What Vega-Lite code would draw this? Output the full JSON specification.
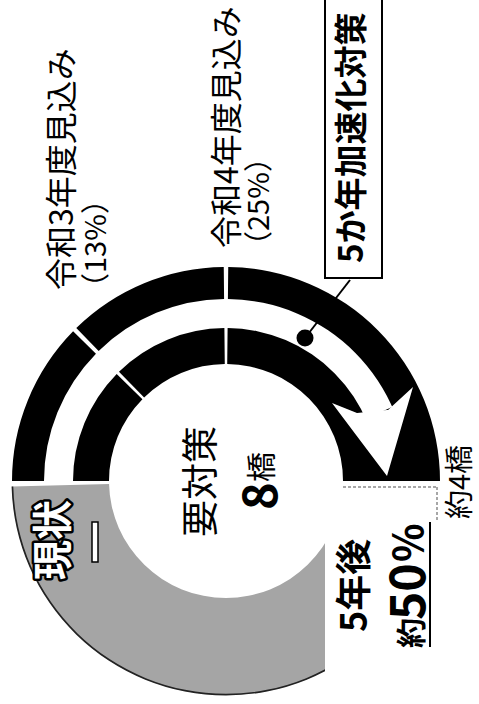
{
  "$schema": "https://vega.github.io/schema/vega-lite/v6.json",
  "width": 479,
  "height": 704,
  "padding": 0,
  "autosize": {"type": "none"},
  "background": "white",
  "view": {"stroke": null},
  "config": {"text": {"font": "Noto Sans CJK JP"}},
  "encoding": {
    "x": {"field": "x", "type": "quantitative", "scale": {"domain": [-226, 253], "nice": false, "zero": false}, "axis": null},
    "y": {"field": "y", "type": "quantitative", "stack": null, "scale": {"domain": [-223, 481], "nice": false, "zero": false}, "axis": null}
  },
  "layer": [
    {
      "data": {"values": [
        {"x": 0, "y": 0, "t1": -90, "t2": -45.6, "r1": 214, "r2": 182, "kind": "要対策"},
        {"x": 0, "y": 0, "t1": -44.4, "t2": -0.6, "r1": 214, "r2": 182, "kind": "要対策"},
        {"x": 0, "y": 0, "t1": 0.6, "t2": 90, "r1": 214, "r2": 182, "kind": "要対策"},
        {"x": 0, "y": 0, "t1": -90, "t2": -45.6, "r1": 153, "r2": 117, "kind": "要対策"},
        {"x": 0, "y": 0, "t1": -44.4, "t2": -0.6, "r1": 153, "r2": 117, "kind": "要対策"},
        {"x": 0, "y": 0, "t1": 0.6, "t2": 90, "r1": 153, "r2": 117, "kind": "要対策"},
        {"x": 0, "y": 0, "t1": 66, "t2": 90, "r1": 183, "r2": 152, "kind": "要対策"},
        {"x": 0, "y": 0, "t1": 91.5, "t2": 268.5, "r1": 214, "r2": 117, "kind": "現状"},
        {"x": 0, "y": 0, "t1": 91.5, "t2": 268.5, "r1": 214.5, "r2": 212.8, "kind": "輪郭"}
      ]},
      "mark": {"type": "arc"},
      "encoding": {
        "theta": {"field": "t1", "type": "quantitative", "stack": null, "scale": {"type": "linear", "domain": [0, 360], "range": [0, 6.283185307179586], "zero": false, "nice": false}},
        "theta2": {"field": "t2"},
        "radius": {"field": "r1", "type": "quantitative", "scale": {"type": "linear", "domain": [0, 214], "range": [0, 214], "zero": false, "nice": false}},
        "radius2": {"field": "r2"},
        "color": {"field": "kind", "type": "nominal", "legend": null, "scale": {"domain": ["要対策", "現状", "輪郭"], "range": ["#000000", "#a5a5a5", "#222222"]}}
      }
    },
    {
      "data": {"values": [{"x": 99, "x2": 260, "y": -3, "y2": -230}]},
      "mark": {"type": "rect", "fill": "white"},
      "encoding": {"x2": {"field": "x2"}, "y2": {"field": "y2"}}
    },
    {
      "data": {"values": [
        {"x": 117, "x2": 211, "y": -6, "y2": -6},
        {"x": 211, "x2": 211, "y": -6, "y2": -39}
      ]},
      "mark": {"type": "rule", "color": "#8a8a8a", "strokeWidth": 1.5, "strokeDash": [3, 2]},
      "encoding": {"x2": {"field": "x2"}, "y2": {"field": "y2"}}
    },
    {
      "data": {"values": [
        {"x": 106, "y": 78, "y2": 78},
        {"x": 131, "y": 68, "y2": 44.8},
        {"x": 161, "y": 70.9, "y2": 5},
        {"x": 162, "y": 71, "y2": 8.4},
        {"x": 187, "y": 94, "y2": 94}
      ]},
      "mark": {"type": "area", "fill": "white", "orient": "vertical"},
      "encoding": {"y2": {"field": "y2"}}
    },
    {
      "data": {"values": [{"x": 124, "x2": 79, "y": 201, "y2": 143}]},
      "mark": {"type": "rule", "color": "black", "strokeWidth": 2},
      "encoding": {"x2": {"field": "x2"}, "y2": {"field": "y2"}}
    },
    {
      "data": {"values": [{"x": 79, "y": 143}]},
      "mark": {"type": "point", "shape": "circle", "filled": true, "color": "black", "size": 290, "opacity": 1}
    },
    {
      "data": {"values": [{"x": 99, "x2": 156, "y": 203, "y2": 500}]},
      "mark": {"type": "rect", "fill": "white", "stroke": "black", "strokeWidth": 2},
      "encoding": {"x2": {"field": "x2"}, "y2": {"field": "y2"}}
    },
    {
      "data": {"values": [
        {"x": -163, "y": 191, "label": "令和3年度見込み"},
        {"x": 2, "y": 233, "label": "令和4年度見込み"}
      ]},
      "mark": {"type": "text", "angle": 270, "align": "left", "baseline": "middle", "fontSize": 32, "color": "black"},
      "encoding": {"text": {"field": "label"}}
    },
    {
      "data": {"values": [
        {"x": -129, "y": 179, "label": "（13%）"},
        {"x": 34, "y": 221, "label": "（25%）"}
      ]},
      "mark": {"type": "text", "angle": 270, "align": "left", "baseline": "middle", "fontSize": 29, "color": "black"},
      "encoding": {"text": {"field": "label"}}
    },
    {
      "data": {"values": [{"x": 127, "y": 218, "label": "5か年加速化対策"}]},
      "mark": {"type": "text", "angle": 270, "align": "left", "baseline": "middle", "fontSize": 33, "fontWeight": "bold", "color": "black"},
      "encoding": {"text": {"field": "label"}}
    },
    {
      "data": {"values": [{"x": -23, "y": -56, "label": "要対策"}]},
      "mark": {"type": "text", "angle": 270, "align": "left", "baseline": "middle", "fontSize": 37, "color": "black"},
      "encoding": {"text": {"field": "label"}}
    },
    {
      "data": {"values": [{"x": 37, "y": -29, "label": "8"}]},
      "mark": {"type": "text", "angle": 270, "align": "left", "baseline": "middle", "fontSize": 47, "fontWeight": "bold", "color": "black"},
      "encoding": {"text": {"field": "label"}}
    },
    {
      "data": {"values": [{"x": 37, "y": -1, "label": "橋"}]},
      "mark": {"type": "text", "angle": 270, "align": "left", "baseline": "middle", "fontSize": 30, "color": "black"},
      "encoding": {"text": {"field": "label"}}
    },
    {
      "data": {"values": [{"x": -171, "y": -99, "label": "現状"}]},
      "mark": {"type": "text", "angle": 270, "align": "left", "baseline": "middle", "fontSize": 40, "fontWeight": "bold", "color": "black", "stroke": "black", "strokeWidth": 5, "strokeJoin": "round"},
      "encoding": {"text": {"field": "label"}}
    },
    {
      "data": {"values": [{"x": -171, "y": -99, "label": "現状"}]},
      "mark": {"type": "text", "angle": 270, "align": "left", "baseline": "middle", "fontSize": 40, "fontWeight": "bold", "color": "white"},
      "encoding": {"text": {"field": "label"}}
    },
    {
      "data": {"values": [{"x": -134, "x2": -128, "y": -41, "y2": -81}]},
      "mark": {"type": "rect", "fill": "white", "stroke": "black", "strokeWidth": 1.5},
      "encoding": {"x2": {"field": "x2"}, "y2": {"field": "y2"}}
    },
    {
      "data": {"values": [{"x": 130, "y": -151, "label": "5年後"}]},
      "mark": {"type": "text", "angle": 270, "align": "left", "baseline": "middle", "fontSize": 36, "fontWeight": "bold", "color": "black"},
      "encoding": {"text": {"field": "label"}}
    },
    {
      "data": {"values": [{"x": 187, "y": -167, "label": "約"}]},
      "mark": {"type": "text", "angle": 270, "align": "left", "baseline": "middle", "fontSize": 30, "fontWeight": "bold", "color": "black"},
      "encoding": {"text": {"field": "label"}}
    },
    {
      "data": {"values": [{"x": 185, "y": -139, "label": "50"}]},
      "mark": {"type": "text", "angle": 270, "align": "left", "baseline": "middle", "fontSize": 48, "fontWeight": "bold", "color": "black"},
      "encoding": {"text": {"field": "label"}}
    },
    {
      "data": {"values": [{"x": 185, "y": -81, "label": "%"}]},
      "mark": {"type": "text", "angle": 270, "align": "left", "baseline": "middle", "fontSize": 40, "fontWeight": "bold", "color": "black"},
      "encoding": {"text": {"field": "label"}}
    },
    {
      "data": {"values": [{"x": 204, "x2": 204, "y": -41, "y2": -166}]},
      "mark": {"type": "rule", "color": "black", "strokeWidth": 2},
      "encoding": {"x2": {"field": "x2"}, "y2": {"field": "y2"}}
    },
    {
      "data": {"values": [{"x": 235, "y": -38, "label": "約4橋"}]},
      "mark": {"type": "text", "angle": 270, "align": "left", "baseline": "middle", "fontSize": 29, "color": "black"},
      "encoding": {"text": {"field": "label"}}
    }
  ]
}
